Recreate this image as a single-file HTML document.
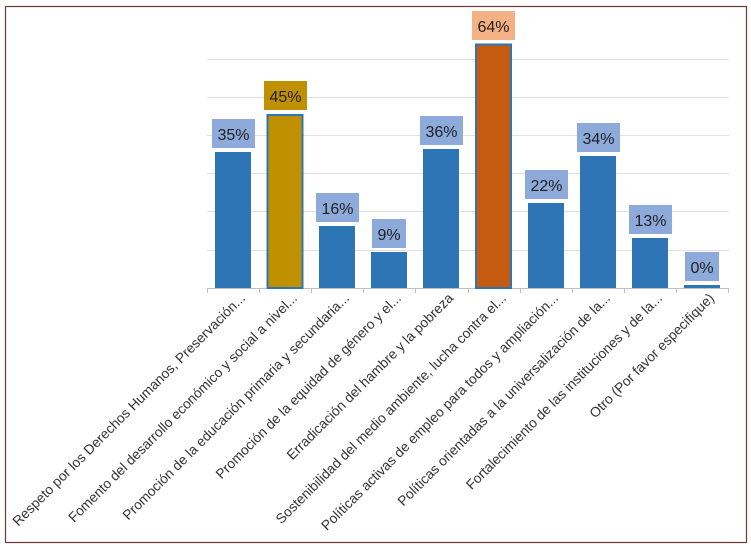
<!DOCTYPE html>
<html><head><meta charset="utf-8"><style>
body{margin:0;background:#fff;}
svg{display:block;font-family:"Liberation Sans",sans-serif;}
</style></head><body>
<svg width="751" height="547" viewBox="0 0 751 547">
<rect x="5.5" y="6.5" width="741" height="536" fill="#fff" stroke="#6e3b3b" stroke-width="1.2"/>
<g stroke="#e0e0e0" stroke-width="1">
<line x1="207" y1="59.5" x2="729" y2="59.5"/>
<line x1="207" y1="97.5" x2="729" y2="97.5"/>
<line x1="207" y1="135.5" x2="729" y2="135.5"/>
<line x1="207" y1="173.5" x2="729" y2="173.5"/>
<line x1="207" y1="211.5" x2="729" y2="211.5"/>
<line x1="207" y1="250.5" x2="729" y2="250.5"/>
</g>
<line x1="207" y1="288.5" x2="729" y2="288.5" stroke="#bfbfbf"/>
<g stroke="#bfbfbf">
<line x1="207.5" y1="288" x2="207.5" y2="293"/><line x1="259.5" y1="288" x2="259.5" y2="293"/><line x1="311.5" y1="288" x2="311.5" y2="293"/><line x1="363.5" y1="288" x2="363.5" y2="293"/><line x1="415.5" y1="288" x2="415.5" y2="293"/><line x1="468.5" y1="288" x2="468.5" y2="293"/><line x1="520.5" y1="288" x2="520.5" y2="293"/><line x1="572.5" y1="288" x2="572.5" y2="293"/><line x1="624.5" y1="288" x2="624.5" y2="293"/><line x1="676.5" y1="288" x2="676.5" y2="293"/><line x1="728.5" y1="288" x2="728.5" y2="293"/>
</g>
<g>
<rect x="215" y="152" width="36" height="136" fill="#2e75b6"/>
<rect x="267.5" y="115" width="35" height="173" fill="#bf9000" stroke="#2e75b6" stroke-width="2"/>
<rect x="319" y="226" width="36" height="62" fill="#2e75b6"/>
<rect x="371" y="252" width="36" height="36" fill="#2e75b6"/>
<rect x="423" y="149" width="36" height="139" fill="#2e75b6"/>
<rect x="476" y="44.5" width="35" height="243.5" fill="#c55a11" stroke="#2e75b6" stroke-width="2"/>
<rect x="528" y="203" width="36" height="85" fill="#2e75b6"/>
<rect x="580" y="156" width="36" height="132" fill="#2e75b6"/>
<rect x="632" y="238" width="36" height="50" fill="#2e75b6"/>
<rect x="684" y="285" width="36" height="3" fill="#2e75b6"/>
</g>
<g font-size="16" fill="#1f1f1f" text-anchor="middle">
<rect x="212" y="119" width="43" height="29" fill="#8eaadb"/><text x="233.5" y="140">35%</text>
<rect x="264" y="81" width="43" height="29" fill="#bf9000"/><text x="285.5" y="102">45%</text>
<rect x="316" y="193" width="43" height="29" fill="#8eaadb"/><text x="337.5" y="214">16%</text>
<rect x="372" y="219" width="34" height="29" fill="#8eaadb"/><text x="389" y="240">9%</text>
<rect x="420" y="116" width="43" height="29" fill="#8eaadb"/><text x="441.5" y="137">36%</text>
<rect x="472" y="11" width="43" height="29" fill="#f4b183"/><text x="493.5" y="32">64%</text>
<rect x="525" y="170" width="43" height="29" fill="#8eaadb"/><text x="546.5" y="191">22%</text>
<rect x="577" y="123" width="43" height="29" fill="#8eaadb"/><text x="598.5" y="144">34%</text>
<rect x="629" y="205" width="43" height="29" fill="#8eaadb"/><text x="650.5" y="226">13%</text>
<rect x="685" y="252" width="34" height="29" fill="#8eaadb"/><text x="702" y="273">0%</text>
</g>
<g font-size="13.8" fill="#333" text-anchor="end">
<text transform="translate(246,299) rotate(-45)">Respeto por los Derechos Humanos, Preservación...</text>
<text transform="translate(298,299) rotate(-45)">Fomento del desarrollo económico y social a nivel...</text>
<text transform="translate(350,299) rotate(-45)">Promoción de la educación primaria y secundaria...</text>
<text transform="translate(402,299) rotate(-45)">Promoción de la equidad de género y el...</text>
<text transform="translate(454,299) rotate(-45)">Erradicación del hambre y la pobreza</text>
<text transform="translate(507,299) rotate(-45)">Sostenibilidad del medio ambiente, lucha contra el...</text>
<text transform="translate(559,299) rotate(-45)">Políticas activas de empleo para todos y ampliación...</text>
<text transform="translate(611,299) rotate(-45)">Políticas orientadas a la universalización de la...</text>
<text transform="translate(663,299) rotate(-45)">Fortalecimiento de las instituciones y de la...</text>
<text transform="translate(715,299) rotate(-45)">Otro (Por favor especifique)</text>
</g>
</svg>
</body></html>
